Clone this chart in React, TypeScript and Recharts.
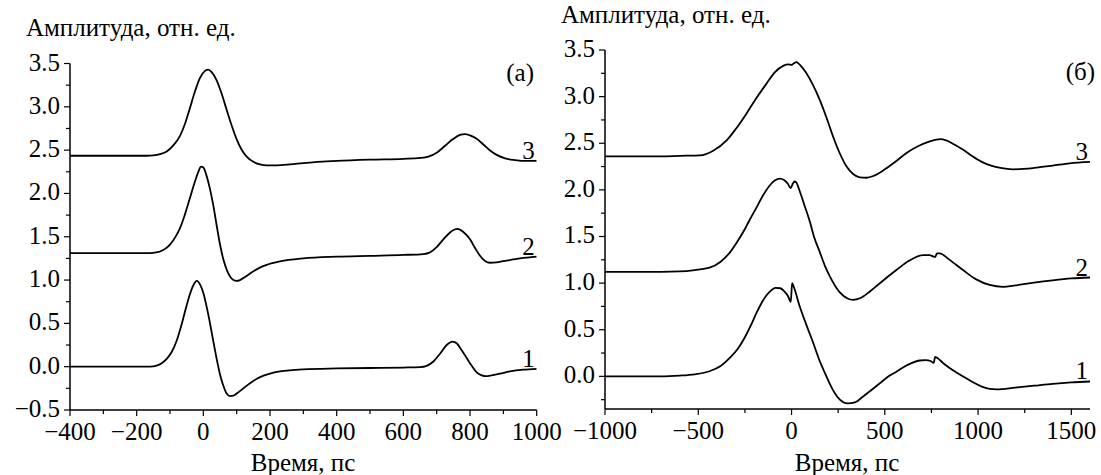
import React from 'react';
import { LineChart, Line, XAxis, YAxis, ReferenceDot } from 'recharts';

const FONT = 'Liberation Serif, DejaVu Serif, Times New Roman, serif';
const FS = 25;

// panel (а): time, ps / amplitude, rel. units
const timeA1 = [-400, -200, -160, -140, -125, -110, -95, -80, -65, -50, -40, -30, -20, -10, 0, 10, 20, 30, 40, 50, 60, 70, 80, 90, 100, 120, 140, 170, 200, 230, 300, 400, 500, 600, 650, 670, 690, 710, 730, 748, 760, 775, 790, 805, 820, 835, 848, 865, 890, 920, 960, 1000];
const ampA1 = [0, 0, 0, 0.012, 0.04, 0.09, 0.17, 0.3, 0.49, 0.71, 0.84, 0.94, 0.99, 0.95, 0.85, 0.69, 0.5, 0.29, 0.09, -0.09, -0.22, -0.31, -0.34, -0.335, -0.31, -0.25, -0.19, -0.12, -0.08, -0.055, -0.03, -0.02, -0.015, -0.01, -0.005, 0.01, 0.06, 0.15, 0.25, 0.29, 0.27, 0.19, 0.1, 0.01, -0.065, -0.1, -0.11, -0.1, -0.08, -0.055, -0.035, -0.025];

const timeA2 = [-400, -200, -170, -150, -130, -115, -100, -85, -70, -55, -40, -25, -15, -7, 0, 10, 20, 30, 40, 50, 60, 70, 80, 90, 100, 110, 125, 140, 165, 190, 230, 300, 400, 500, 600, 660, 680, 700, 720, 740, 762, 780, 800, 815, 830, 845, 860, 880, 910, 950, 1000];
const ampA2 = [1.31, 1.31, 1.31, 1.315, 1.33, 1.36, 1.41, 1.49, 1.6, 1.76, 1.95, 2.14, 2.25, 2.31, 2.3, 2.2, 2.05, 1.86, 1.63, 1.41, 1.24, 1.12, 1.04, 1.0, 0.99, 1.0, 1.035, 1.075, 1.135, 1.175, 1.215, 1.25, 1.27, 1.28, 1.29, 1.3, 1.32, 1.38, 1.47, 1.55, 1.59, 1.555, 1.47, 1.37, 1.28, 1.22, 1.2, 1.205, 1.225, 1.25, 1.27];

const timeA3 = [-400, -200, -170, -150, -130, -110, -90, -70, -55, -40, -25, -10, 5, 15, 25, 40, 55, 70, 85, 100, 115, 130, 150, 170, 190, 220, 260, 300, 400, 500, 600, 650, 675, 700, 725, 750, 770, 785, 800, 820, 840, 860, 880, 905, 935, 970, 1000];
const ampA3 = [2.435, 2.435, 2.435, 2.44, 2.455, 2.485, 2.555, 2.665, 2.805, 2.99, 3.18, 3.335, 3.415, 3.43, 3.4, 3.305, 3.15, 2.965, 2.785, 2.625, 2.505, 2.425, 2.365, 2.335, 2.325, 2.325, 2.335, 2.35, 2.375, 2.39, 2.4, 2.41, 2.425, 2.47, 2.55, 2.63, 2.675, 2.685, 2.67, 2.63, 2.565, 2.495, 2.445, 2.405, 2.385, 2.375, 2.375];

// panel (б)
const timeB1 = [-1000, -700, -600, -520, -440, -380, -330, -290, -250, -215, -188, -160, -134, -110, -86, -60, -40, -20, -4, 3, 10, 44, 80, 116, 150, 187, 220, 259, 300, 340, 375, 420, 470, 520, 562, 620, 687, 720, 745, 762, 770, 780, 820, 870, 919, 970, 1020, 1062, 1100, 1200, 1300, 1400, 1500, 1600];
const ampB1 = [0, 0, 0.008, 0.022, 0.055, 0.11, 0.2, 0.29, 0.42, 0.56, 0.68, 0.79, 0.87, 0.92, 0.95, 0.945, 0.915, 0.865, 0.8, 1.0, 0.97, 0.75, 0.55, 0.36, 0.17, 0.0, -0.14, -0.25, -0.29, -0.28, -0.23, -0.16, -0.08, 0.0, 0.05, 0.12, 0.17, 0.175, 0.165, 0.145, 0.21, 0.2, 0.13, 0.06, 0.0, -0.06, -0.11, -0.135, -0.14, -0.12, -0.1, -0.08, -0.065, -0.055];

const timeB2 = [-1000, -700, -600, -520, -440, -380, -330, -286, -250, -232, -188, -150, -116, -90, -63, -40, -20, -5, 8, 15, 25, 45, 70, 98, 120, 152, 180, 206, 259, 300, 330, 370, 420, 480, 562, 630, 705, 740, 760, 770, 780, 795, 840, 919, 990, 1062, 1134, 1200, 1300, 1400, 1500, 1600];
const ampB2 = [1.12, 1.12, 1.125, 1.14, 1.165, 1.23, 1.33, 1.46, 1.58, 1.65, 1.81, 1.95, 2.05, 2.1, 2.12, 2.105, 2.065, 2.02, 2.07, 2.09, 2.08, 1.98, 1.83, 1.66, 1.5, 1.33, 1.18, 1.07, 0.9, 0.835, 0.82, 0.84, 0.91, 1.01, 1.14, 1.24, 1.3, 1.3, 1.285, 1.28, 1.32, 1.32, 1.26, 1.14, 1.04, 0.98, 0.96, 0.975, 1.005, 1.03, 1.05, 1.06];

const timeB3 = [-1000, -700, -600, -491, -420, -348, -300, -241, -190, -134, -90, -45, -15, 0, 15, 27, 45, 80, 116, 150, 190, 223, 259, 295, 330, 365, 402, 440, 500, 562, 620, 680, 741, 770, 800, 830, 870, 920, 970, 1020, 1070, 1120, 1187, 1300, 1400, 1491, 1600];
const ampB3 = [2.36, 2.36, 2.365, 2.37, 2.42, 2.53, 2.65, 2.82, 2.98, 3.14, 3.26, 3.33, 3.345, 3.34, 3.36, 3.37, 3.34, 3.25, 3.12, 2.97, 2.76, 2.57, 2.39, 2.25, 2.17, 2.135, 2.13, 2.15, 2.22, 2.31, 2.4, 2.47, 2.52, 2.535, 2.545, 2.53, 2.49, 2.43, 2.36, 2.3, 2.26, 2.235, 2.22, 2.235, 2.26, 2.285, 2.3];

// ticks
const xTicksA = [-400, -300, -200, -100, 0, 100, 200, 300, 400, 500, 600, 700, 800, 900, 1000];
const xMajorA = [-400, -200, 0, 200, 400, 600, 800, 1000];
const yTicksA = [-0.5, -0.25, 0, 0.25, 0.5, 0.75, 1, 1.25, 1.5, 1.75, 2, 2.25, 2.5, 2.75, 3, 3.25, 3.5];
const yMajorA = [-0.5, 0, 0.5, 1, 1.5, 2, 2.5, 3, 3.5];

const xTicksB = [-1000, -750, -500, -250, 0, 250, 500, 750, 1000, 1250, 1500];
const xMajorB = [-1000, -500, 0, 500, 1000, 1500];
const yTicksB = [-0.25, 0, 0.25, 0.5, 0.75, 1, 1.25, 1.5, 1.75, 2, 2.25, 2.5, 2.75, 3, 3.25, 3.5];
const yMajorB = [0, 0.5, 1, 1.5, 2, 2.5, 3, 3.5];

const zip = (t: number[], v: number[]) => t.map((x, i) => ({ t: x, v: v[i] }));
const minus = (s: string) => s.replace('-', '\u2212');
const isIn = (arr: number[], v: number) => arr.some((m) => Math.abs(m - v) < 1e-9);

const makeXTick = (majors: number[]) => (props: any) => {
  const { x, y, payload } = props;
  const major = isIn(majors, payload.value);
  return (
    <g>
      <line x1={x} x2={x} y1={y} y2={y + (major ? 6 : 4)} stroke="#000" strokeWidth={1.2} />
      {major && (
        <text x={x} y={y + 30} textAnchor="middle" style={{ fontFamily: FONT, fontSize: FS }} fill="#000">
          {minus(String(payload.value))}
        </text>
      )}
    </g>
  );
};

const makeYTick = (majors: number[]) => (props: any) => {
  const { x, y, payload } = props;
  const major = isIn(majors, payload.value);
  return (
    <g>
      <line x1={x} x2={x - (major ? 6 : 4)} y1={y} y2={y} stroke="#000" strokeWidth={1.2} />
      {major && (
        <text x={x - 10} y={y + 7} textAnchor="end" style={{ fontFamily: FONT, fontSize: FS }} fill="#000">
          {minus(Number(payload.value).toFixed(1))}
        </text>
      )}
    </g>
  );
};

const curveLabel = (text: string) => (props: any) => {
  const { viewBox } = props;
  return (
    <text x={viewBox.x - 2} y={viewBox.y - 2} textAnchor="end" style={{ fontFamily: FONT, fontSize: FS }} fill="#000">
      {text}
    </text>
  );
};

interface PanelProps {
  width: number;
  margin: { top: number; right: number; bottom: number; left: number };
  yWidth: number;
  xDomain: [number, number];
  yDomain: [number, number];
  xTicks: number[];
  xMajor: number[];
  yTicks: number[];
  yMajor: number[];
  curves: { t: number; v: number }[][];
}

function Panel({ width, margin, yWidth, xDomain, yDomain, xTicks, xMajor, yTicks, yMajor, curves }: PanelProps) {
  return (
    <LineChart width={width} height={475} margin={margin}>
      <XAxis
        dataKey="t"
        type="number"
        domain={xDomain}
        allowDataOverflow
        ticks={xTicks}
        interval={0}
        tickSize={0}
        tickMargin={0}
        tickLine={false}
        tick={makeXTick(xMajor)}
        axisLine={{ stroke: '#000', strokeWidth: 1.5 }}
        height={40}
      />
      <YAxis
        type="number"
        domain={yDomain}
        allowDataOverflow
        ticks={yTicks}
        interval={0}
        tickSize={0}
        tickMargin={0}
        tickLine={false}
        tick={makeYTick(yMajor)}
        axisLine={{ stroke: '#000', strokeWidth: 1.5 }}
        width={yWidth}
      />
      {curves.map((c, i) => (
        <Line
          key={i}
          data={c}
          dataKey="v"
          type="monotone"
          dot={false}
          stroke="#000"
          strokeWidth={1.8}
          isAnimationActive={false}
        />
      ))}
      {curves.map((c, i) => {
        const last = c[c.length - 1];
        return (
          <ReferenceDot
            key={`lbl-${i}`}
            x={last.t}
            y={last.v}
            r={0}
            fill="none"
            stroke="none"
            ifOverflow="visible"
            label={curveLabel(String(i + 1))}
          />
        );
      })}
    </LineChart>
  );
}

export default function App() {
  const textStyle = { fontFamily: FONT, fontSize: FS };
  return (
    <div style={{ position: 'absolute', left: 0, top: 0, width: 1101, height: 475, background: '#fff' }}>
      <div style={{ position: 'absolute', left: 0, top: 0 }}>
        <Panel
          width={580}
          margin={{ top: 63.5, right: 43.3, bottom: 25, left: 0 }}
          yWidth={70}
          xDomain={[-400, 1000]}
          yDomain={[-0.5, 3.5]}
          xTicks={xTicksA}
          xMajor={xMajorA}
          yTicks={yTicksA}
          yMajor={yMajorA}
          curves={[zip(timeA1, ampA1), zip(timeA2, ampA2), zip(timeA3, ampA3)]}
        />
      </div>
      <div style={{ position: 'absolute', left: 550, top: 0 }}>
        <Panel
          width={551}
          margin={{ top: 50, right: 11, bottom: 26, left: 0 }}
          yWidth={55}
          xDomain={[-1000, 1600]}
          yDomain={[-0.35, 3.5]}
          xTicks={xTicksB}
          xMajor={xMajorB}
          yTicks={yTicksB}
          yMajor={yMajorB}
          curves={[zip(timeB1, ampB1), zip(timeB2, ampB2), zip(timeB3, ampB3)]}
        />
      </div>
      <svg width={1101} height={475} style={{ position: 'absolute', left: 0, top: 0, pointerEvents: 'none' }}>
        <text x={26} y={36} style={textStyle} fill="#000">Амплитуда, отн. ед.</text>
        <text x={561} y={23} style={textStyle} fill="#000">Амплитуда, отн. ед.</text>
        <text x={534} y={81} textAnchor="end" style={textStyle} fill="#000">(а)</text>
        <text x={1095} y={80} textAnchor="end" style={textStyle} fill="#000">(б)</text>
        <text x={303} y={471} textAnchor="middle" style={textStyle} fill="#000">Время, пс</text>
        <text x={847} y={471} textAnchor="middle" style={textStyle} fill="#000">Время, пс</text>
      </svg>
    </div>
  );
}
